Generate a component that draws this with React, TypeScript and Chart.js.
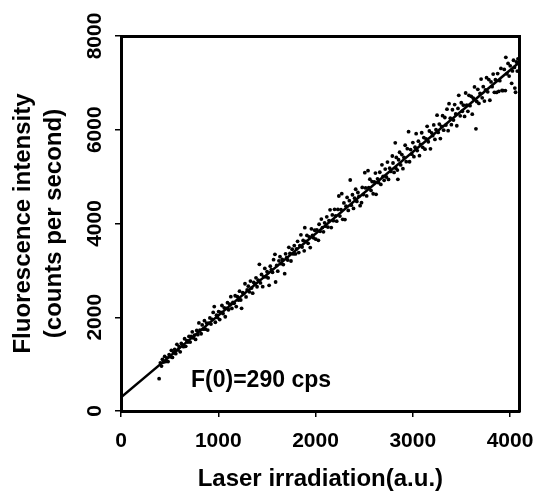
import React, { useEffect, useRef } from "react";
import { Chart, registerables } from "chart.js";

Chart.register(...registerables);

// Measured laser irradiation (a.u.)
const xValues: number[] = [
  392, 405, 417, 426, 438, 449, 461, 472, 484, 495,
  507, 518, 529, 541, 552, 563, 575, 586, 597,
  609, 620, 631, 643, 654, 665, 677, 688, 699,
  711, 722, 733, 745, 756, 767, 779, 790, 801,
  812, 824, 835, 846, 858, 869, 880, 892, 903,
  914, 925, 937, 948, 959, 970, 982, 993,
  1004, 1015, 1027, 1038, 1049, 1061, 1072, 1083, 1095,
  1106, 1117, 1129, 1140, 1151, 1163, 1174, 1185, 1197,
  1208, 1219, 1231, 1240, 1252, 1263, 1275, 1286, 1297,
  1309, 1320, 1331, 1343, 1354, 1365, 1377, 1388, 1399,
  1411, 1423, 1434, 1445, 1457, 1468, 1479, 1491, 1502,
  1513, 1523, 1535, 1546, 1558, 1569, 1583, 1590, 1601,
  1612, 1624, 1635, 1646, 1658, 1669, 1683, 1692, 1703,
  1714, 1726, 1737, 1748, 1760, 1771, 1782, 1794, 1805,
  1816, 1828, 1839, 1850, 1862, 1873, 1884, 1890, 1901,
  1912, 1924, 1935, 1946, 1958, 1969, 1980, 1992, 2003,
  2014, 2030, 2037, 2048, 2060, 2071, 2082, 2094, 2105,
  2116, 2128, 2139, 2150, 2162, 2173, 2184, 2196, 2207,
  2218, 2230, 2240, 2251, 2262, 2270, 2280, 2292, 2303,
  2314, 2325, 2337, 2348, 2357, 2368, 2380, 2391, 2402,
  2413, 2425, 2436, 2447, 2459, 2473, 2481, 2492, 2507,
  2515, 2526, 2540, 2548, 2559, 2571, 2582, 2593, 2605,
  2616, 2623, 2638, 2649, 2661, 2672, 2683, 2695, 2706,
  2717, 2729, 2740, 2751, 2763, 2774, 2790, 2797, 2808,
  2820, 2826, 2831, 2842, 2847, 2854, 2865, 2876, 2888, 2899,
  2910, 2922, 2933, 2944, 2957, 2967, 2978, 2990, 3001,
  3012, 3024, 3035, 3046, 3058, 3069, 3080, 3092, 3103,
  3114, 3126, 3137, 3148, 3160, 3171, 3182, 3194, 3205,
  3216, 3228, 3239, 3250, 3262, 3273, 3284, 3296, 3307,
  3318, 3330, 3341, 3352, 3364, 3373, 3386, 3397, 3408,
  3419, 3431, 3442, 3453, 3465, 3473, 3488, 3499, 3510,
  3521, 3533, 3544, 3555, 3567, 3578, 3589, 3601, 3612,
  3623, 3635, 3650, 3658, 3669, 3680, 3692, 3703, 3714,
  3725, 3737, 3748, 3759, 3771, 3782, 3793, 3805, 3816,
  3827, 3839, 3850, 3861, 3873, 3884, 3895, 3907, 3918,
  3929, 3941, 3952, 3957, 3968, 3980, 3991, 4002, 4017,
  4025, 4036, 4045, 4050, 4057, 4066, 4075, 4082,
];

// Measured fluorescence intensity (counts per second)
const yValues: number[] = [
  690, 1027, 958, 1103, 1044, 1164, 1054, 1134, 1055, 1204,
  1155, 1294, 1143, 1244, 1313, 1222, 1423, 1303, 1372,
  1263, 1442, 1411, 1372, 1541, 1380, 1501, 1471, 1590,
  1471, 1590, 1689, 1560, 1619, 1528, 1719, 1629, 1878,
  1727, 1648, 1837, 1746, 1927, 1746, 1876, 1727, 1876,
  1985, 1854, 1955, 2104, 2228, 1893, 2044, 1993,
  2122, 1951, 2102, 2251, 2080, 2201, 2011, 2190, 2311,
  2160, 2279, 2440, 2189, 2318, 2299, 2459, 2228, 2439,
  2368, 2557, 2368, 2191, 2525, 2504, 2715, 2434, 2583,
  2664, 2543, 2772, 2623, 2513, 2742, 2713, 2842, 2651,
  2792, 3129, 2732, 2912, 2652, 2862, 3041, 2862, 2971,
  2840, 2682, 3089, 3018, 2959, 3228, 3343, 2752, 3104,
  2983, 3204, 3293, 3142, 3233, 3123, 2929, 3353, 3272,
  3221, 3492, 3361, 3200, 3451, 3350, 3530, 3350, 3460,
  3619, 3380, 3529, 3758, 3499, 3638, 3417, 3911, 3617,
  3746, 3577, 3716, 3486, 3887, 3746, 3695, 3856, 3665,
  3864, 3641, 3984, 3834, 4095, 3914, 3823, 4014, 3943,
  4143, 3923, 4062, 4292, 3913, 4182, 4061, 4302, 4161,
  4050, 4301, 4587, 4158, 4297, 4636, 4090, 4440, 4083,
  4368, 4557, 4278, 4487, 4928, 4392, 4613, 4322, 4541,
  4731, 4472, 4661, 4580, 4381, 4444, 4769, 4619, 5084,
  4759, 4588, 5126, 4766, 4945, 4706, 4895, 4635, 4886,
  5075, 4623, 4953, 4872, 5093, 4833, 5252, 5003, 4922,
  5161, 4992, 5311, 4940, 5181, 5111, 5440, 5291, 5090,
  5721, 5181, 5410, 5139, 4943, 5360, 5520, 5249, 5470, 5169,
  5408, 5669, 5318, 5597, 5958, 5317, 5577, 5478, 5727,
  5426, 5627, 5916, 5555, 5756, 5446, 5685, 5936, 5625,
  5834, 5585, 5804, 6073, 5744, 5973, 5593, 5934, 5873,
  6102, 5793, 6002, 6311, 5942, 6121, 5811, 6072, 6301,
  5990, 6261, 6100, 6439, 5980, 6556, 6248, 6108, 6427,
  6206, 6537, 6336, 6085, 6456, 6735, 6297, 6576, 6395,
  6524, 6285, 6784, 6523, 6394, 6734, 6513, 6714, 6333,
  6672, 6913, 6020, 6603, 6863, 6562, 6773, 7082, 6681,
  6920, 6611, 6850, 7110, 6810, 7070, 6629, 7020, 6919,
  7188, 6799, 7068, 6797, 7198, 6818, 7047, 7308, 6837,
  6836, 7286, 6836, 7545, 7194, 7415, 7145, 7364, 6990,
  7254, 7483, 7329, 6890, 6800, 7445, 7251, 7513,
];

// Linear fit line endpoints
const fitLineX: number[] = [0, 4100];
const fitLineY: number[] = [290, 7445];

const xTicks: number[] = [0, 1000, 2000, 3000, 4000];
const yTicks: number[] = [0, 2000, 4000, 6000, 8000];

const xAxisTitle = "Laser irradiation(a.u.)";
const yAxisTitle = ["Fluorescence intensity", "(counts per second)"];
const annotationText = "F(0)=290 cps";
const annotationAt = { x: 720, y: 640 };

const FONT = 'Arial, "Liberation Sans", Helvetica, sans-serif';

export default function App() {
  const canvasRef = useRef<HTMLCanvasElement | null>(null);

  useEffect(() => {
    const canvas = canvasRef.current;
    if (!canvas) return;

    const n = Math.min(xValues.length, yValues.length);
    const points = [];
    for (let i = 0; i < n; i++) points.push({ x: xValues[i], y: yValues[i] });
    const linePts = fitLineX.map((x, i) => ({ x, y: fitLineY[i] }));

    const annotationPlugin = {
      id: "fAnnotation",
      afterDatasetsDraw(chart: any) {
        const { ctx, scales } = chart;
        const px = scales.x.getPixelForValue(annotationAt.x);
        const py = scales.y.getPixelForValue(annotationAt.y);
        ctx.save();
        ctx.font = `bold 23px ${FONT}`;
        ctx.fillStyle = "#000";
        ctx.textAlign = "left";
        ctx.textBaseline = "middle";
        ctx.fillText(annotationText, px, py);
        ctx.restore();
      },
    };

    const tickFont = { family: FONT, size: 21, weight: "bold" as const };
    const titleFont = { family: FONT, size: 24, weight: "bold" as const };
    const plain = (v: any) => String(v);

    const chart = new Chart(canvas, {
      type: "scatter",
      data: {
        datasets: [
          {
            label: "data",
            data: points,
            showLine: false,
            pointRadius: 1.9,
            pointBorderWidth: 0,
            pointBackgroundColor: "#000",
            pointBorderColor: "#000",
            pointHoverRadius: 1.9,
          },
          {
            label: "fit",
            data: linePts,
            showLine: true,
            borderColor: "#000",
            borderWidth: 2.5,
            pointRadius: 0,
            fill: false,
          },
        ],
      },
      options: {
        animation: false,
        responsive: false,
        devicePixelRatio: 1,
        layout: { padding: 0 },
        plugins: {
          legend: { display: false },
          tooltip: { enabled: false },
          title: { display: false },
        },
        scales: {
          x: {
            type: "linear",
            position: "bottom",
            min: 0,
            max: 4100,
            afterBuildTicks: (s: any) => {
              s.ticks = xTicks.map((v) => ({ value: v }));
            },
            afterFit: (s: any) => {
              s.height = 80;
            },
            grid: {
              display: true,
              drawOnChartArea: false,
              drawTicks: true,
              tickLength: 6,
              color: "#000",
              lineWidth: 1.5,
            },
            border: { display: true, color: "#000", width: 3 },
            ticks: {
              color: "#000",
              font: tickFont,
              padding: 12,
              maxRotation: 0,
              minRotation: 0,
              autoSkip: false,
              callback: plain,
            },
            title: {
              display: true,
              text: xAxisTitle,
              color: "#000",
              font: { ...titleFont, lineHeight: 1 },
              padding: 0,
            },
          },
          y: {
            type: "linear",
            position: "left",
            min: 0,
            max: 8000,
            afterBuildTicks: (s: any) => {
              s.ticks = yTicks.map((v) => ({ value: v }));
            },
            afterFit: (s: any) => {
              s.width = 121;
            },
            grid: {
              display: true,
              drawOnChartArea: false,
              drawTicks: true,
              tickLength: 6,
              color: "#000",
              lineWidth: 1.5,
            },
            border: { display: true, color: "#000", width: 3 },
            ticks: {
              color: "#000",
              font: tickFont,
              padding: -4,
              minRotation: 90,
              maxRotation: 90,
              crossAlign: "center",
              autoSkip: false,
              callback: plain,
            },
            title: {
              display: true,
              text: yAxisTitle,
              color: "#000",
              font: { ...titleFont, lineHeight: 1.3 },
              padding: { top: 8, bottom: 0 },
            },
          },
          x2: {
            type: "linear",
            axis: "x",
            position: "top",
            min: 0,
            max: 4100,
            grid: { display: false },
            ticks: { display: false },
            border: { display: true, color: "#000", width: 3 },
            afterFit: (s: any) => {
              s.height = 36;
            },
          },
          y2: {
            type: "linear",
            axis: "y",
            position: "right",
            min: 0,
            max: 8000,
            grid: { display: false },
            ticks: { display: false },
            border: { display: true, color: "#000", width: 3 },
            afterFit: (s: any) => {
              s.width = 15;
            },
          },
        },
      } as any,
      plugins: [annotationPlugin],
    });

    return () => {
      chart.destroy();
    };
  }, []);

  return (
    <div
      style={{
        position: "absolute",
        left: 0,
        top: 0,
        width: 546,
        height: 491,
        background: "#fff",
      }}
    >
      <canvas
        ref={canvasRef}
        width={546}
        height={491}
        style={{ width: 546, height: 491, display: "block" }}
      />
    </div>
  );
}
